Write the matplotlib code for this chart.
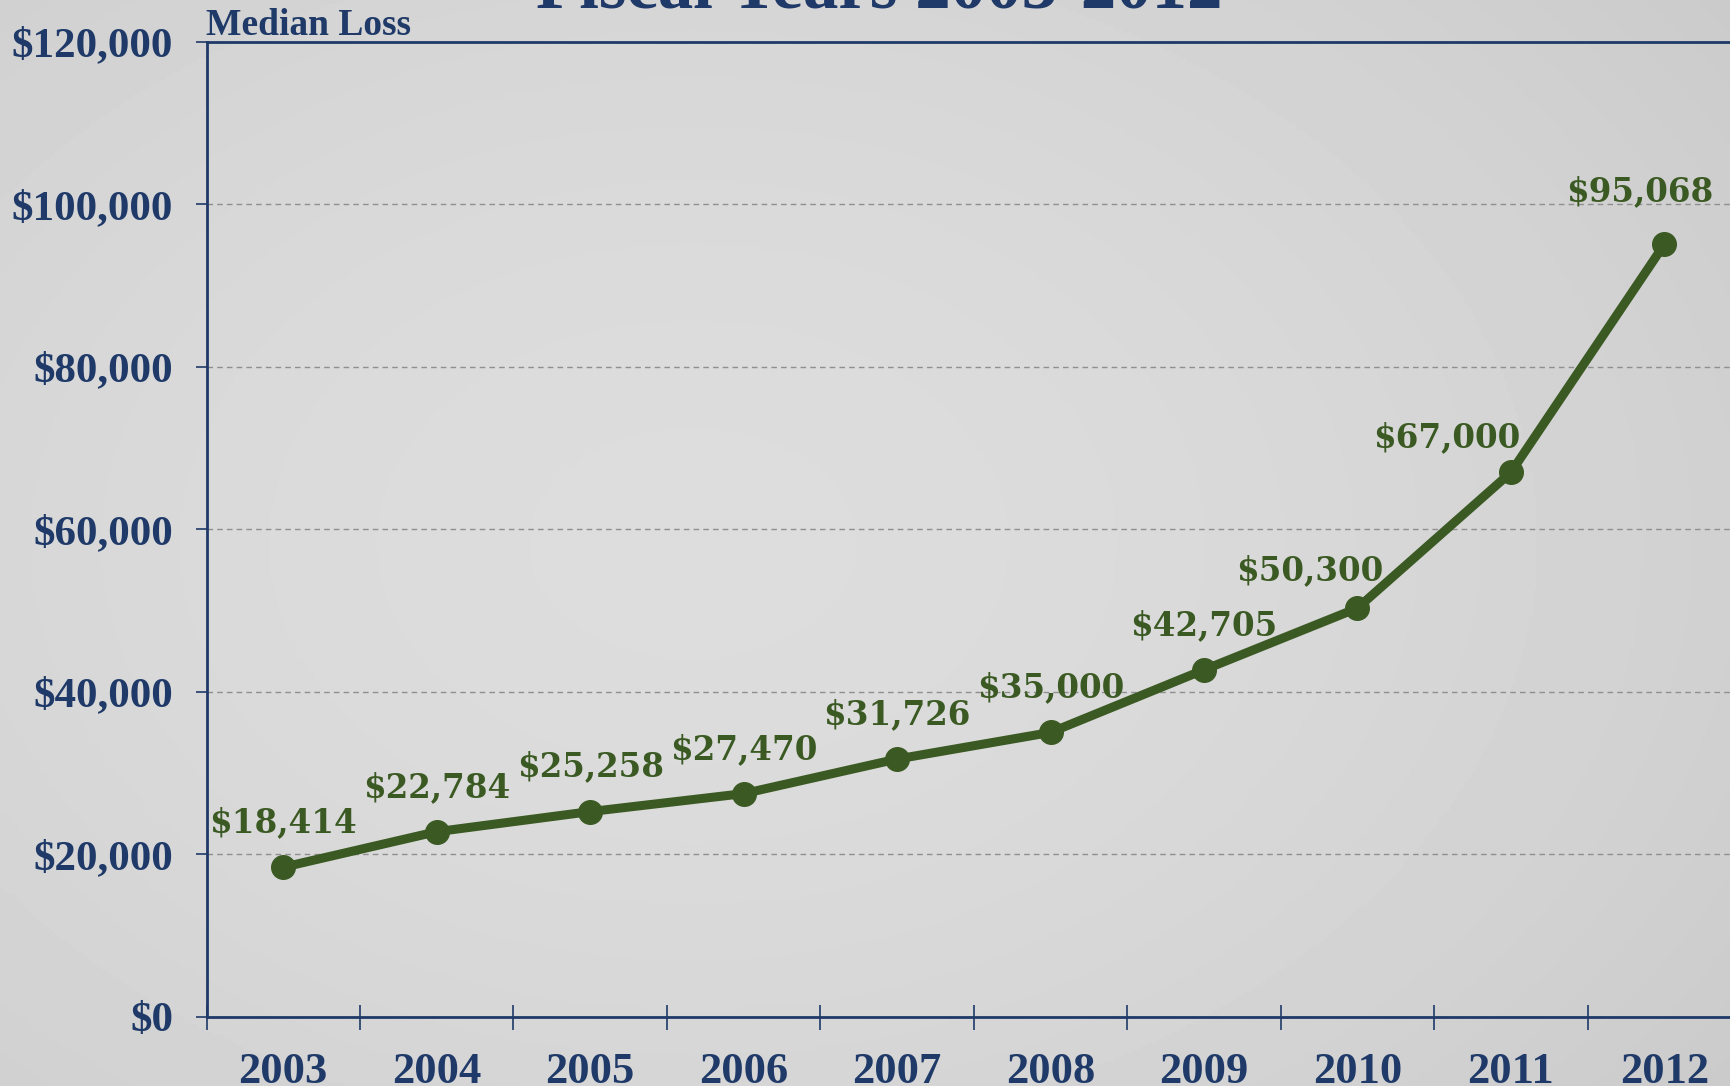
import numpy as np
import matplotlib.pyplot as plt
from matplotlib.ticker import FuncFormatter, FixedLocator

years = ['2003', '2004', '2005', '2006', '2007', '2008', '2009', '2010', '2011', '2012']
median_loss = [18414, 22784, 25258, 27470, 31726, 35000, 42705, 50300, 67000, 95068]
# label nudges (points) for the value labels
label_dx = [0, 0, 0, 0, 0, 0, 0, -34, -46, -18]
label_dy = [32, 32, 32, 32, 32, 32, 32, 27, 25, 38]

navy = '#1f3a68'
green = '#3b5a23'

fig = plt.figure(figsize=(17.31, 10.86), dpi=100)

# gray background, lighter toward the left-centre
bg = fig.add_axes([0, 0, 1, 1], zorder=0)
yy, xx = np.mgrid[0:1:300j, 0:1:480j]
r = np.sqrt(((xx - 0.4) / 0.8) ** 2 + ((yy - 0.5) / 0.9) ** 2)
shade = 0.865 - 0.08 * r ** 1.8
bg.imshow(shade, cmap='gray', vmin=0, vmax=1, aspect='auto', extent=[0, 1, 0, 1])
bg.axis('off')

ax = fig.add_axes([0.1193, 0.0637, 0.8865, 0.8978], zorder=1)
ax.patch.set_alpha(0)

x = np.arange(len(years))
ax.plot(x, median_loss, color=green, lw=6.5, marker='o', ms=17, zorder=3, clip_on=False)

for i, v in enumerate(median_loss):
    ax.annotate(f'${v:,}', (x[i], v), xytext=(label_dx[i], label_dy[i]), textcoords='offset points',
                ha='center', va='center', color=green, fontsize=23.5, fontweight='bold',
                family='DejaVu Serif', annotation_clip=False)

ax.set_xlim(-0.5, len(years) - 0.5)
ax.set_ylim(0, 120000)
ax.yaxis.set_major_locator(FixedLocator(np.arange(0, 120001, 20000)))
ax.yaxis.set_major_formatter(FuncFormatter(lambda v, p: f'${int(v):,}'))
ax.grid(axis='y', color='#8f8f8f', ls=(0, (4, 3)), lw=1.0)
ax.set_axisbelow(True)

ax.set_xticks(np.arange(-0.5, len(years), 1))
ax.set_xticklabels([])
ax.set_xticks(x, minor=True)
ax.set_xticklabels(years, minor=True)
ax.tick_params(axis='x', which='major', direction='inout', length=18, width=1.2, color=navy)
ax.tick_params(axis='x', which='minor', length=0, pad=25)
ax.tick_params(axis='y', direction='out', length=8, width=1.2, color=navy, pad=16)

for lab in ax.get_xticklabels(minor=True):
    lab.set_fontsize(32)
for lab in ax.get_yticklabels():
    lab.set_fontsize(31)
for lab in ax.get_xticklabels(minor=True) + ax.get_yticklabels():
    lab.set_family('Liberation Serif')
    lab.set_fontweight('bold')
    lab.set_color(navy)

for s in ['left', 'bottom', 'top']:
    ax.spines[s].set_color(navy)
    ax.spines[s].set_linewidth(2)
ax.spines['right'].set_visible(False)

fig.text(0.119, 0.968, 'Median Loss', family='Liberation Serif', fontweight='bold',
         fontsize=27, color=navy, ha='left', va='baseline')
fig.text(0.508, 0.993, 'Fiscal Years 2003-2012', family='Liberation Serif', fontweight='bold',
         fontsize=51, color=navy, ha='center', va='baseline')

fig.savefig('out.png', dpi=100)
